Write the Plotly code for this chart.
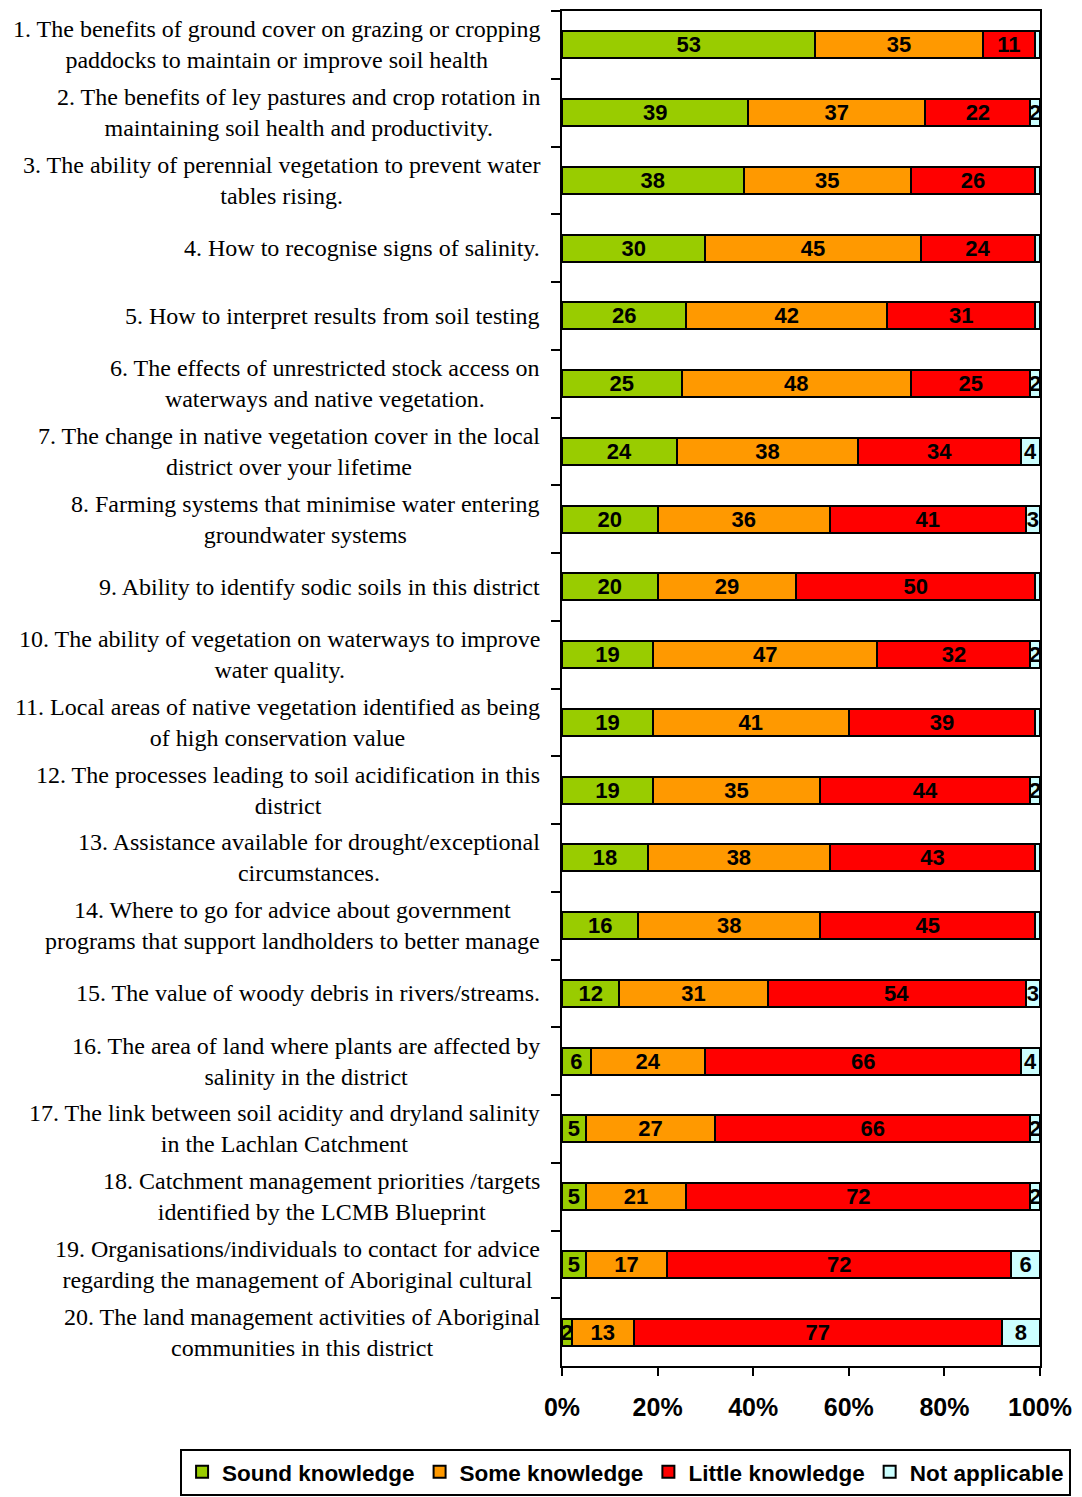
import plotly.graph_objects as go

questions = [
    "1. The benefits of ground cover on grazing or cropping<br>paddocks to maintain or improve soil health",
    "2. The benefits of ley pastures and crop rotation in<br>maintaining soil health and productivity.",
    "3. The ability of perennial vegetation to prevent water<br>tables rising.",
    "4. How to recognise signs of salinity.",
    "5. How to interpret results from soil testing",
    "6. The effects of unrestricted stock access on<br>waterways and native vegetation.",
    "7. The change in native vegetation cover in the local<br>district over your lifetime",
    "8. Farming systems that minimise water entering<br>groundwater systems",
    "9. Ability to identify sodic soils in this district",
    "10. The ability of vegetation on waterways to improve<br>water quality.",
    "11. Local areas of native vegetation identified as being<br>of high conservation value",
    "12. The processes leading to soil acidification in this<br>district",
    "13. Assistance available for drought/exceptional<br>circumstances.",
    "14. Where to go for advice about government<br>programs that support landholders to better manage",
    "15. The value of woody debris in rivers/streams.",
    "16. The area of land where plants are affected by<br>salinity in the district",
    "17. The link between soil acidity and dryland salinity<br>in the Lachlan Catchment",
    "18. Catchment management priorities /targets<br>identified by the LCMB Blueprint",
    "19. Organisations/individuals to contact for advice<br>regarding the management of Aboriginal cultural",
    "20. The land management activities of Aboriginal<br>communities in this district",
]

sound = [53, 39, 38, 30, 26, 25, 24, 20, 20, 19, 19, 19, 18, 16, 12, 6, 5, 5, 5, 2]
some = [35, 37, 35, 45, 42, 48, 38, 36, 29, 47, 41, 35, 38, 38, 31, 24, 27, 21, 17, 13]
little = [11, 22, 26, 24, 31, 25, 34, 41, 50, 32, 39, 44, 43, 45, 54, 66, 66, 72, 72, 77]
not_applicable = [1, 2, 1, 1, 1, 2, 4, 3, 1, 2, 1, 2, 1, 1, 3, 4, 2, 2, 6, 8]

x_ticks = [0, 20, 40, 60, 80, 100]
x_tick_text = [f"{v}%" for v in x_ticks]

series = [
    ("Sound knowledge", sound, "#99CC00"),
    ("Some knowledge", some, "#FF9900"),
    ("Little knowledge", little, "#FF0000"),
    ("Not applicable", not_applicable, "#CCFFFF"),
]

fig = go.Figure()
for name, vals, color in series:
    fig.add_trace(go.Bar(
        y=questions, x=vals, name=name, orientation="h",
        marker=dict(color=color, line=dict(color="black", width=2)),
        text=[str(v) if v > 1 else "" for v in vals],
        textposition="inside", insidetextanchor="middle", textangle=0,
        textfont=dict(family="Liberation Sans, Arial", size=22, color="black", weight="bold"),
        hoverinfo="skip",
    ))

for q in questions:
    fig.add_annotation(
        x=-0.042, xref="paper", y=q, yref="y", text=q, showarrow=False,
        xanchor="right", yanchor="middle", align="center",
        font=dict(family="Liberation Serif, Times New Roman", size=24, color="black"),
    )

fig.update_layout(
    width=1074, height=1489, barmode="stack", bargap=0.6,
    margin=dict(l=554, r=42, t=1, b=129),
    plot_bgcolor="white", paper_bgcolor="white",
    uniformtext=dict(minsize=22, mode="show"),
    showlegend=True,
    legend=dict(
        orientation="h", x=-0.799, xanchor="left", y=-0.061, yanchor="top",
        bordercolor="black", borderwidth=2, traceorder="normal",
        font=dict(family="Liberation Sans, Arial", size=22.5, color="black", weight="bold"),
        itemwidth=30, tracegroupgap=0,
    ),
)
fig.update_xaxes(
    range=[0, 100], tickmode="array", tickvals=x_ticks, ticktext=x_tick_text,
    showgrid=False, zeroline=False, showline=True, linecolor="black", linewidth=2,
    mirror=True, ticks="outside", ticklen=8, tickwidth=2, tickcolor="black",
    ticklabelstandoff=10,
    tickfont=dict(family="Liberation Sans, Arial", size=25, color="black", weight="bold"),
)
fig.update_yaxes(
    autorange="reversed", showticklabels=False, showgrid=False, zeroline=False,
    showline=True, linecolor="black", linewidth=2, mirror=True,
    ticks="outside", ticklen=9, tickwidth=2, tickcolor="black", tickson="boundaries",
)

fig.write_html("out.html")
